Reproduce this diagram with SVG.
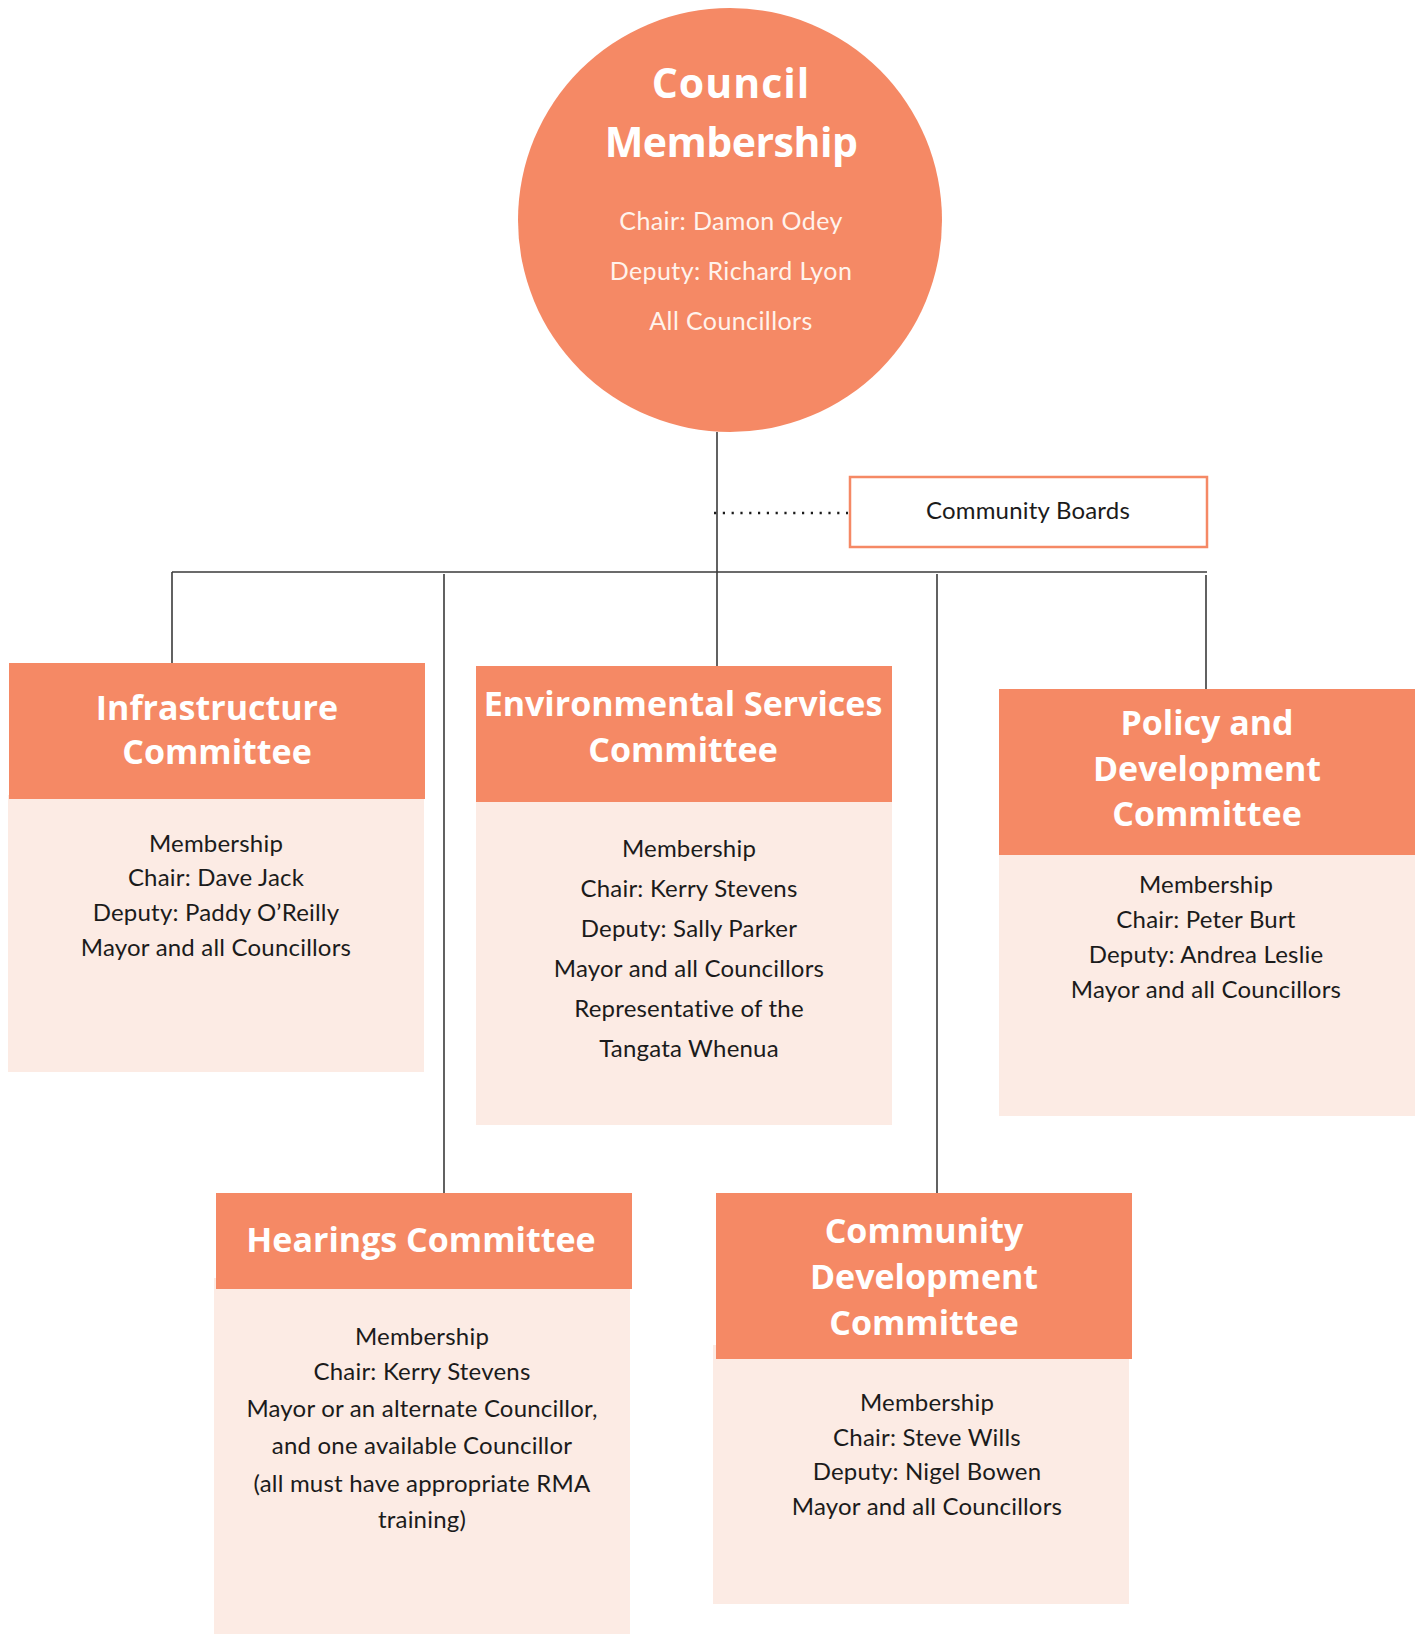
<svg xmlns="http://www.w3.org/2000/svg" width="1420" height="1634" viewBox="0 0 1420 1634">
<style>
.hdr{fill:#F58965}
.bdy{fill:#FCEBE4}
.ttl{font-family:"Open Sans","Liberation Sans",sans-serif;font-weight:700;font-size:34px;fill:#ffffff;text-anchor:middle}
.txt{font-family:Lato,"Liberation Sans",sans-serif;font-size:24px;letter-spacing:0.2px;fill:#1b1b1b;text-anchor:middle}
.ctl{font-family:"Open Sans","Liberation Sans",sans-serif;font-weight:700;font-size:41px;fill:#ffffff;text-anchor:middle}
.csub{font-family:Lato,"Liberation Sans",sans-serif;font-size:25px;letter-spacing:0.4px;fill:#fff3ec;text-anchor:middle}
.ln{stroke:#3a3a3a;stroke-width:1.6;fill:none}
</style>
<rect width="1420" height="1634" fill="#ffffff"/>
<g id="connectors">
<line class="ln" x1="717" y1="432" x2="717" y2="666"/>
<line class="ln" x1="172" y1="572" x2="1207" y2="572"/>
<line class="ln" x1="172" y1="572" x2="172" y2="663"/>
<line class="ln" x1="444" y1="574" x2="444" y2="1193"/>
<line class="ln" x1="937" y1="574" x2="937" y2="1193"/>
<line class="ln" x1="1206" y1="575" x2="1206" y2="689"/>
<line x1="714" y1="513" x2="848" y2="513" stroke="#1b1b1b" stroke-width="2.4" stroke-dasharray="2.2 6.6"/>
</g>
<g id="council">
<circle cx="730" cy="220" r="212" class="hdr"/>
<text class="ctl" x="731" y="98" letter-spacing="1">Council</text>
<text class="ctl" x="731" y="157" letter-spacing="-0.5">Membership</text>
<text class="csub" x="731" y="230">Chair: Damon Odey</text>
<text class="csub" x="731" y="280">Deputy: Richard Lyon</text>
<text class="csub" x="731" y="330">All Councillors</text>
</g>
<g id="community-boards">
<rect x="850" y="477" width="357" height="70" fill="#ffffff" stroke="#F58965" stroke-width="2.5"/>
<text class="txt" x="1028" y="519">Community Boards</text>
</g>
<g id="infrastructure">
<rect class="bdy" x="8" y="795" width="416" height="277"/>
<rect class="hdr" x="9" y="663" width="416" height="136"/>
<text class="ttl" x="217" y="720">Infrastructure</text>
<text class="ttl" x="217" y="764">Committee</text>
<text class="txt" x="216" y="852">Membership</text>
<text class="txt" x="216" y="886">Chair: Dave Jack</text>
<text class="txt" x="216" y="921">Deputy: Paddy O’Reilly</text>
<text class="txt" x="216" y="956">Mayor and all Councillors</text>
</g>
<g id="environmental">
<rect class="bdy" x="476" y="798" width="416" height="327"/>
<rect class="hdr" x="476" y="666" width="416" height="136"/>
<text class="ttl" x="683" y="716">Environmental Services</text>
<text class="ttl" x="683" y="762">Committee</text>
<text class="txt" x="689" y="857">Membership</text>
<text class="txt" x="689" y="897">Chair: Kerry Stevens</text>
<text class="txt" x="689" y="937">Deputy: Sally Parker</text>
<text class="txt" x="689" y="977">Mayor and all Councillors</text>
<text class="txt" x="689" y="1017">Representative of the</text>
<text class="txt" x="689" y="1057">Tangata Whenua</text>
</g>
<g id="policy">
<rect class="bdy" x="999" y="851" width="416" height="265"/>
<rect class="hdr" x="999" y="689" width="416" height="166"/>
<text class="ttl" x="1207" y="735">Policy and</text>
<text class="ttl" x="1207" y="781">Development</text>
<text class="ttl" x="1207" y="826">Committee</text>
<text class="txt" x="1206" y="893">Membership</text>
<text class="txt" x="1206" y="928">Chair: Peter Burt</text>
<text class="txt" x="1206" y="963">Deputy: Andrea Leslie</text>
<text class="txt" x="1206" y="998">Mayor and all Councillors</text>
</g>
<g id="hearings">
<rect class="bdy" x="214" y="1278" width="416" height="356"/>
<rect class="hdr" x="216" y="1193" width="416" height="96"/>
<text class="ttl" x="421" y="1252">Hearings Committee</text>
<text class="txt" x="422" y="1345">Membership</text>
<text class="txt" x="422" y="1380">Chair: Kerry Stevens</text>
<text class="txt" x="422" y="1417">Mayor or an alternate Councillor,</text>
<text class="txt" x="422" y="1454">and one available Councillor</text>
<text class="txt" x="422" y="1492">(all must have appropriate RMA</text>
<text class="txt" x="422" y="1528">training)</text>
</g>
<g id="community-development">
<rect class="bdy" x="713" y="1345" width="416" height="259"/>
<rect class="hdr" x="716" y="1193" width="416" height="166"/>
<text class="ttl" x="924" y="1243">Community</text>
<text class="ttl" x="924" y="1289">Development</text>
<text class="ttl" x="924" y="1335">Committee</text>
<text class="txt" x="927" y="1411">Membership</text>
<text class="txt" x="927" y="1446">Chair: Steve Wills</text>
<text class="txt" x="927" y="1480">Deputy: Nigel Bowen</text>
<text class="txt" x="927" y="1515">Mayor and all Councillors</text>
</g>
</svg>
